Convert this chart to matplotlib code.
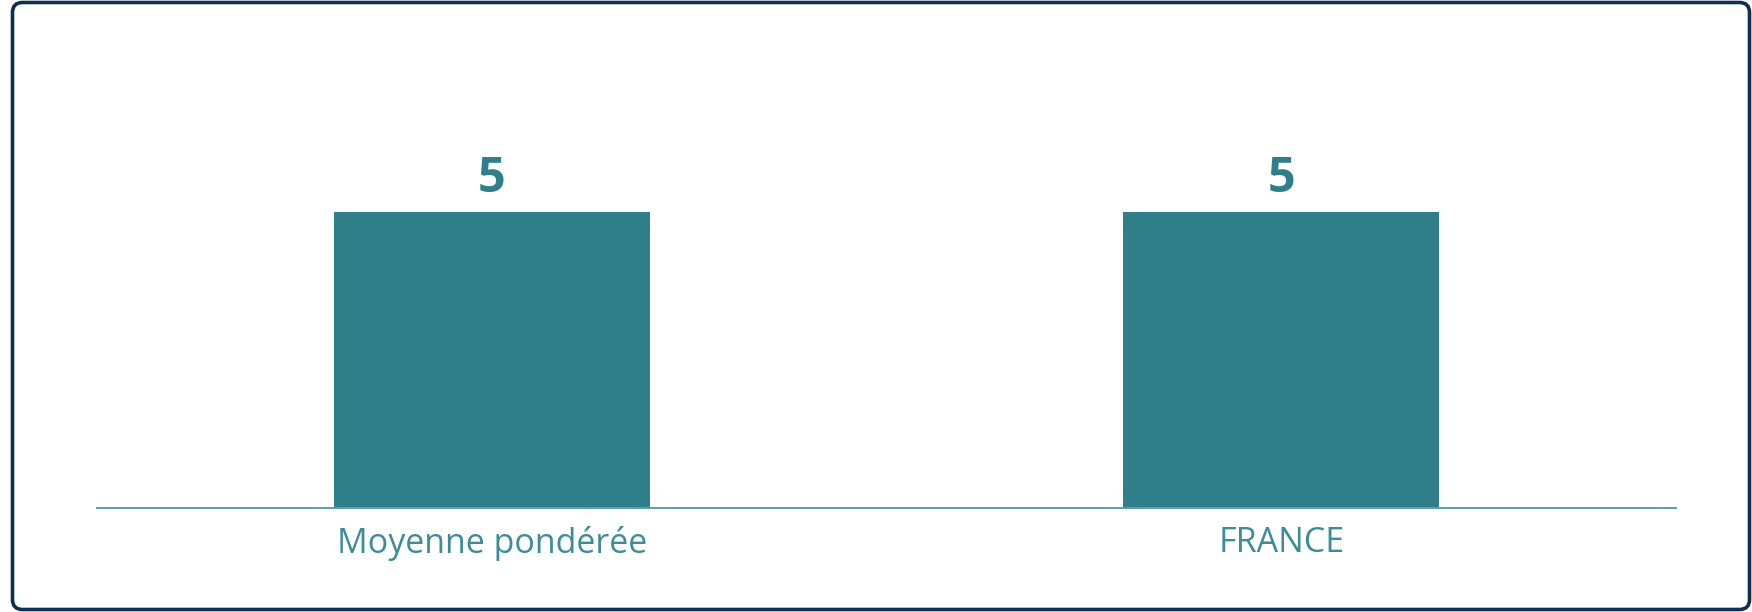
import matplotlib
matplotlib.use("Agg")
import matplotlib.pyplot as plt
import matplotlib.patches as mpatches
from matplotlib.transforms import IdentityTransform

categories = ["Moyenne pondérée", "FRANCE"]
values = [5, 5]
value_labels = ["5", "5"]

bar_color = "#2e7f8a"
text_color = "#3f8c99"
axis_color = "#5e9ea8"
border_color = "#0e2f4f"

plt.rcParams['font.family'] = ['Open Sans', 'DejaVu Sans']

W, H = 1752, 612
fig = plt.figure(figsize=(W / 100, H / 100), dpi=100)
fig.patch.set_facecolor("white")

# axes placed in pixels: x 97..1676, y(top=212 for value 5) .. 508
ax_left, ax_right = 97, 1676
ax_bottom, ax_top = 508, 40
ax = fig.add_axes([ax_left / W, 1 - ax_bottom / H,
                   (ax_right - ax_left) / W, (ax_bottom - ax_top) / H])

x = list(range(len(categories)))
bars = ax.bar(x, values, width=0.4, color=bar_color)
ax.set_xlim(-0.5, len(categories) - 0.5)
ax.set_ylim(0, 5 * (ax_bottom - ax_top) / (ax_bottom - 212))

ax.bar_label(bars, labels=value_labels, padding=6, fontsize=35,
             fontweight="bold", color=bar_color)

ax.set_xticks(x)
ax.set_xticklabels(categories, fontsize=24.5, color=text_color)
ax.tick_params(axis="x", length=0, pad=13)
ax.set_yticks([])
for s in ["top", "right", "left"]:
    ax.spines[s].set_visible(False)
ax.spines["bottom"].set_color(axis_color)
ax.spines["bottom"].set_linewidth(1.4)

# rounded border around the card (in pixels)
border = mpatches.FancyBboxPatch((12.5, 2.5), 1737, 607,
                                 boxstyle="round,pad=0,rounding_size=10",
                                 transform=IdentityTransform(),
                                 facecolor="none", edgecolor=border_color,
                                 linewidth=2.6)
fig.add_artist(border)

fig.savefig("out.png", dpi=100, facecolor="white")
